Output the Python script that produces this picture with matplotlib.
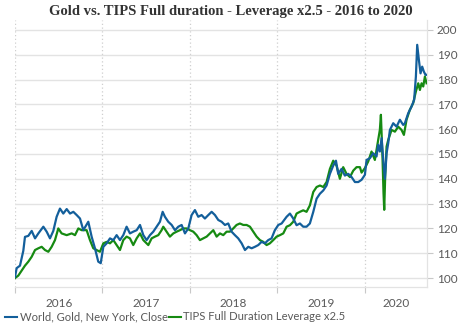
import matplotlib

matplotlib.use("Agg")
import matplotlib.pyplot as plt  # noqa: E402
from matplotlib.lines import Line2D  # noqa: E402

# decimal-year dates and index values
gold_dates = [
    2016.000, 2016.019, 2016.057, 2016.095, 2016.114, 2016.152, 2016.191, 2016.229,
    2016.267, 2016.324, 2016.362, 2016.400, 2016.438, 2016.476, 2016.514, 2016.552,
    2016.591, 2016.629, 2016.667, 2016.705, 2016.743, 2016.781, 2016.838, 2016.876,
    2016.914, 2016.952, 2016.980, 2017.010, 2017.048, 2017.086, 2017.124, 2017.162,
    2017.200, 2017.238, 2017.276, 2017.314, 2017.352, 2017.391, 2017.429, 2017.467,
    2017.505, 2017.543, 2017.581, 2017.619, 2017.657, 2017.688, 2017.714, 2017.752,
    2017.791, 2017.829, 2017.867, 2017.905, 2017.943, 2017.981, 2018.019, 2018.057,
    2018.095, 2018.133, 2018.171, 2018.210, 2018.248, 2018.286, 2018.324, 2018.362,
    2018.400, 2018.438, 2018.476, 2018.514, 2018.552, 2018.591, 2018.629, 2018.667,
    2018.705, 2018.743, 2018.781, 2018.819, 2018.857, 2018.895, 2018.933, 2018.971,
    2019.010, 2019.048, 2019.105, 2019.143, 2019.181, 2019.219, 2019.257, 2019.295,
    2019.333, 2019.371, 2019.410, 2019.448, 2019.486, 2019.524, 2019.562, 2019.600,
    2019.638, 2019.669, 2019.695, 2019.733, 2019.771, 2019.810, 2019.848, 2019.886,
    2019.924, 2019.962, 2020.000, 2020.019, 2020.057, 2020.095, 2020.133, 2020.152,
    2020.171, 2020.191, 2020.210, 2020.229, 2020.248, 2020.267, 2020.286, 2020.324,
    2020.362, 2020.400, 2020.438, 2020.457, 2020.495, 2020.533, 2020.563, 2020.583,
    2020.598, 2020.617, 2020.636, 2020.655, 2020.674, 2020.693, 2020.705,
]
gold_values = [
    100.5, 104.0, 105.0, 111.0, 116.6, 117.0, 119.0, 116.0,
    118.0, 120.7, 118.7, 116.0, 119.0, 124.7, 128.0, 126.0,
    127.8, 126.0, 126.7, 125.4, 124.0, 119.3, 122.7, 116.7,
    112.0, 106.6, 106.0, 112.6, 114.0, 116.0, 115.3, 117.3,
    115.3, 117.3, 120.7, 118.0, 118.7, 119.3, 121.4, 117.3,
    115.3, 117.3, 118.7, 120.7, 122.7, 126.7, 124.7, 122.7,
    121.4, 119.3, 120.7, 121.4, 118.0, 120.0, 125.4, 127.4,
    124.7, 125.4, 124.0, 125.4, 126.7, 125.4, 123.4, 122.7,
    121.4, 122.0, 118.7, 117.3, 116.0, 114.0, 111.3, 112.6,
    112.0, 112.6, 113.3, 114.6, 114.0, 115.3, 116.0, 119.3,
    121.4, 122.0, 124.7, 126.0, 124.0, 121.3, 122.0, 120.7,
    120.7, 122.0, 126.7, 132.0, 134.0, 135.3, 137.3, 142.0,
    145.3, 147.3, 142.0, 144.0, 141.3, 142.0, 140.7, 138.7,
    138.7, 139.6, 141.6, 147.6, 148.3, 150.3, 149.0, 153.7,
    151.0, 156.4, 147.6, 140.0, 150.3, 154.4, 159.7, 162.4,
    161.0, 163.8, 161.7, 162.4, 166.4, 169.1, 171.8, 181.2,
    194.0, 188.0, 182.5, 185.2, 183.2, 181.9, 181.9,
]

tips_dates = [
    2016.000, 2016.038, 2016.076, 2016.114, 2016.152, 2016.191, 2016.229, 2016.267,
    2016.305, 2016.343, 2016.381, 2016.419, 2016.457, 2016.495, 2016.533, 2016.591,
    2016.648, 2016.686, 2016.724, 2016.762, 2016.819, 2016.857, 2016.895, 2016.933,
    2016.971, 2017.010, 2017.048, 2017.086, 2017.124, 2017.162, 2017.200, 2017.238,
    2017.276, 2017.314, 2017.352, 2017.391, 2017.429, 2017.467, 2017.524, 2017.562,
    2017.600, 2017.638, 2017.676, 2017.695, 2017.733, 2017.771, 2017.810, 2017.848,
    2017.886, 2017.924, 2017.962, 2018.000, 2018.038, 2018.076, 2018.114, 2018.152,
    2018.191, 2018.229, 2018.267, 2018.305, 2018.343, 2018.381, 2018.419, 2018.457,
    2018.495, 2018.533, 2018.571, 2018.610, 2018.648, 2018.686, 2018.724, 2018.762,
    2018.800, 2018.838, 2018.876, 2018.914, 2018.952, 2018.991, 2019.029, 2019.067,
    2019.105, 2019.143, 2019.181, 2019.219, 2019.257, 2019.295, 2019.333, 2019.371,
    2019.410, 2019.448, 2019.486, 2019.524, 2019.562, 2019.600, 2019.638, 2019.676,
    2019.714, 2019.752, 2019.790, 2019.829, 2019.867, 2019.905, 2019.943, 2019.962,
    2020.000, 2020.038, 2020.076, 2020.114, 2020.152, 2020.171, 2020.183, 2020.191,
    2020.202, 2020.213, 2020.221, 2020.232, 2020.248, 2020.267, 2020.305, 2020.343,
    2020.381, 2020.419, 2020.446, 2020.476, 2020.514, 2020.552, 2020.583, 2020.610,
    2020.629, 2020.648, 2020.667, 2020.686, 2020.705,
]
tips_values = [
    100.0, 101.0, 103.0, 105.0, 106.6, 108.6, 111.3, 112.0,
    112.6, 111.3, 110.6, 112.6, 115.3, 120.0, 118.0, 117.3,
    118.0, 117.3, 120.0, 119.3, 119.3, 115.3, 112.0, 111.3,
    110.6, 114.0, 114.6, 114.0, 115.3, 113.3, 111.3, 115.3,
    116.7, 116.0, 113.3, 116.0, 118.0, 115.3, 113.3, 116.0,
    116.7, 117.3, 119.3, 120.7, 118.7, 116.7, 118.0, 118.7,
    119.3, 120.0, 120.0, 119.3, 118.7, 117.3, 115.3, 116.0,
    116.7, 118.0, 119.3, 116.7, 118.0, 117.3, 118.7, 118.7,
    120.0, 121.4, 122.0, 121.4, 121.4, 120.7, 118.7, 116.7,
    115.3, 114.6, 113.3, 114.0, 115.3, 116.7, 117.3, 118.0,
    120.7, 121.3, 122.7, 126.0, 126.7, 127.3, 126.7, 129.3,
    134.7, 136.7, 137.3, 136.7, 138.7, 144.0, 147.3, 145.3,
    140.0, 144.7, 142.0, 140.7, 143.3, 144.7, 144.7, 142.5,
    144.3, 147.0, 151.0, 147.6, 155.7, 159.7, 165.8, 158.4,
    147.6, 134.2, 127.5, 141.0, 153.0, 155.7, 159.7, 159.0,
    161.0, 159.7, 157.7, 163.8, 167.8, 170.5, 175.2, 178.5,
    175.8, 178.5, 177.2, 181.2, 178.5,
]

years = [2016, 2017, 2018, 2019, 2020]
gold_label = "World, Gold, New York, Close"
tips_label = "TIPS Full Duration Leverage x2.5"
title = "Gold vs. TIPS Full duration - Leverage x2.5 - 2016 to 2020"

GOLD_C = "#135f9b"
TIPS_C = "#168a12"
GRID_C = "#e3e3e3"
TEXT_C = "#595959"
x_end = 2020.71

fig = plt.figure(figsize=(4.62, 3.35), dpi=100)
ax = fig.add_axes([15 / 462, 1 - 287 / 335, 412 / 462, 267 / 335])

ax.plot(tips_dates, tips_values, color=TIPS_C, lw=1.6, zorder=3)
ax.plot(gold_dates, gold_values, color=GOLD_C, lw=1.6, zorder=4)

ax.set_xlim(2016.0, x_end)
ax.set_ylim(96.4, 204)

# y axis on the right
ax.yaxis.tick_right()
ax.set_yticks(range(100, 201, 10))
ax.tick_params(axis="y", length=4, width=0.8, color="#c8c8c8", pad=3,
               labelsize=8.5, labelcolor=TEXT_C)
ax.grid(axis="y", color=GRID_C, lw=1, zorder=0)

# year boundaries: ticks + dotted gridlines; labels centred on each year
ax.set_xticks(years)
ax.set_xticklabels([])
ax.tick_params(axis="x", which="major", length=4, width=0.8, color="#c8c8c8")
for y in years:
    ax.axvline(y, color="#cfcfcf", lw=0.9, ls=(0, (1, 2)), zorder=1)
mids = [min(y + 0.5, (y + x_end) / 2) for y in years]
ax.set_xticks(mids, minor=True)
ax.set_xticklabels([str(y) for y in years], minor=True)
ax.tick_params(axis="x", which="minor", length=0, pad=8,
               labelsize=8.5, labelcolor=TEXT_C)

for side in ("top", "left"):
    ax.spines[side].set_visible(False)
for side in ("bottom", "right"):
    ax.spines[side].set_color("#e3e3e3")
    ax.spines[side].set_linewidth(0.9)

for lbl in ax.get_xticklabels(minor=True) + ax.get_yticklabels():
    lbl.set_family(["Lato", "DejaVu Sans"])

fig.text(0.5, 1 - 12 / 335, title, ha="center", va="center",
         fontsize=10.5, fontweight="bold", color="#333333",
         family=["Liberation Serif", "DejaVu Serif"])

handles = [Line2D([], [], color=GOLD_C, lw=1.5), Line2D([], [], color=TIPS_C, lw=1.5)]
fig.legend(handles, [gold_label, tips_label], loc="center left",
           bbox_to_anchor=(5 / 462, 1 - 317 / 335), ncol=2, frameon=False,
           handlelength=1.1, handletextpad=0.2, columnspacing=0.1,
           borderaxespad=0, borderpad=0,
           prop={"family": ["Lato", "DejaVu Sans"], "size": 8.1},
           labelcolor=TEXT_C)

fig.savefig("out.png", dpi=100)
